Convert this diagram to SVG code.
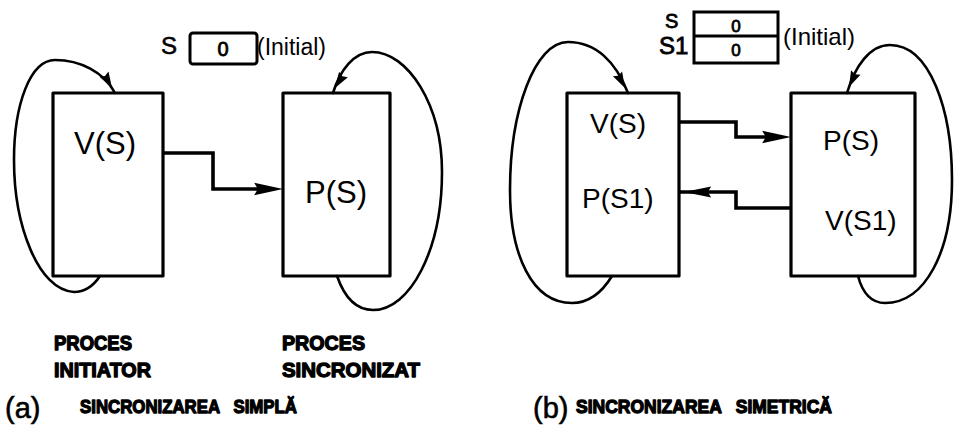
<svg xmlns="http://www.w3.org/2000/svg" xmlns:xlink="http://www.w3.org/1999/xlink" width="955" height="448" viewBox="0 0 955 448">
  <style>
    .box { fill: #fff; stroke: #000; stroke-width: 3.2; stroke-linejoin: round; }
    .sem { fill: #fff; stroke: #000; stroke-width: 3; }
    .loop { fill: none; stroke: #000; stroke-width: 2.6; stroke-linecap: round; }
    .wire { fill: none; stroke: #000; stroke-width: 3.6; stroke-linejoin: miter; }
    .op { font-family: "Liberation Sans", "DejaVu Sans", sans-serif; fill: #000; }
    .lbl { font-family: "Liberation Sans", "DejaVu Sans", sans-serif; font-weight: bold; fill: #000; stroke: #000; stroke-width: 1.3; stroke-linejoin: round; white-space: pre; }
    .cap { font-family: "Liberation Sans", "DejaVu Sans", sans-serif; fill: #000; stroke: #000; stroke-width: 0.6; }
  </style>
  <defs>
    <!-- elongated arrowhead, tip at the origin, pointing along +x -->
    <path id="ah" d="M0,0 L-16,-5.2 L-14,0 L-16,5.2 Z" fill="#000"/>
  </defs>

  <!-- ===== (a) simple synchronisation ===== -->
  <g id="sem-a">
    <text class="op" x="161" y="54" font-size="24" stroke="#000" stroke-width="0.6">S</text>
    <rect class="sem" x="190" y="33" width="67" height="31" rx="3"/>
    <text class="op" x="223" y="56" font-size="20" text-anchor="middle" stroke="#000" stroke-width="0.8">0</text>
    <text class="op" x="257" y="55" font-size="23">(Initial)</text>
  </g>

  <g id="proc-initiator-a">
    <rect class="box" x="53" y="93" width="110" height="183"/>
    <text class="op" x="74" y="154" font-size="31">V(S)</text>
  </g>

  <g id="proc-sync-a">
    <rect class="box" x="283" y="93" width="107" height="183"/>
    <text class="op" x="305" y="203" font-size="31">P(S)</text>
  </g>

  <!-- ===== (b) symmetric synchronisation ===== -->
  <g id="sem-b">
    <text class="op" x="665" y="28" font-size="20" stroke="#000" stroke-width="0.8">S</text>
    <text class="op" x="659" y="54" font-size="24" stroke="#000" stroke-width="0.8">S1</text>
    <rect class="sem" x="694" y="12" width="84" height="51"/>
    <line x1="694" y1="36" x2="778" y2="36" stroke="#000" stroke-width="3"/>
    <text class="op" x="736" y="32" font-size="17" text-anchor="middle" stroke="#000" stroke-width="0.8">0</text>
    <text class="op" x="736" y="56" font-size="17" text-anchor="middle" stroke="#000" stroke-width="0.8">0</text>
    <text class="op" x="783" y="45" font-size="24">(Initial)</text>
  </g>

  <g id="proc-left-b">
    <rect class="box" x="567" y="93" width="112" height="183"/>
    <text class="op" x="590" y="133" font-size="28">V(S)</text>
    <text class="op" x="582" y="208" font-size="28">P(S1)</text>
  </g>

  <g id="proc-right-b">
    <rect class="box" x="791" y="93" width="124" height="183"/>
    <text class="op" x="823" y="150" font-size="28">P(S)</text>
    <text class="op" x="825" y="230" font-size="28">V(S1)</text>
  </g>

  <!-- ===== connectors ===== -->
  <g id="connectors">
    <!-- (a) cycle of the initiating process -->
    <path class="loop" d="M100,276 C92,288 84,292 74,292 C38,290 14,225 14,160 C14,105 30,60 55,60 C80,60 104,72 115,93"/>
    <use xlink:href="#ah" transform="translate(112,88) rotate(60)"/>
    <!-- (a) cycle of the synchronised process -->
    <path class="loop" d="M333,93 C340,70 354,52 372,52 C408,52 442,105 442,172 C442,250 410,310 373,310 C355,310 344,296 337,276"/>
    <use xlink:href="#ah" transform="translate(335,88) rotate(122)"/>
    <!-- (a) V(S) -> P(S) -->
    <path class="wire" d="M163,153 H213 V189 H268"/>
    <use xlink:href="#ah" transform="translate(283,189) scale(1.8,1.2)"/>

    <!-- (b) cycle of the left process -->
    <path class="loop" d="M612,276 C601,294 588,303 572,303 C532,303 510,255 510,190 C510,110 535,42 568,42 C596,42 616,62 628,93"/>
    <use xlink:href="#ah" transform="translate(625,88) rotate(62)"/>
    <!-- (b) cycle of the right process -->
    <path class="loop" d="M847,93 C855,66 870,45 890,45 C930,45 952,110 952,180 C952,252 925,303 885,303 C870,303 862,291 858,276"/>
    <use xlink:href="#ah" transform="translate(849,87) rotate(115)"/>
    <!-- (b) V(S) -> P(S) -->
    <path class="wire" d="M679,122 H736 V137 H776"/>
    <use xlink:href="#ah" transform="translate(791,137) scale(1.8,1.2)"/>
    <!-- (b) V(S1) -> P(S1) -->
    <path class="wire" d="M791,208 H736 V192 H679"/>
    <use xlink:href="#ah" transform="translate(684,192) rotate(180) scale(1.7,1.05)"/>
  </g>

  <!-- ===== captions ===== -->
  <g id="captions">
    <text class="lbl" x="54" y="350" font-size="20" textLength="78" lengthAdjust="spacingAndGlyphs">PROCES</text>
    <text class="lbl" x="54" y="377" font-size="20" textLength="97" lengthAdjust="spacingAndGlyphs">INITIATOR</text>
    <text class="lbl" x="282" y="350" font-size="20" textLength="83" lengthAdjust="spacingAndGlyphs">PROCES</text>
    <text class="lbl" x="282" y="377" font-size="20" textLength="138" lengthAdjust="spacingAndGlyphs">SINCRONIZAT</text>

    <text class="cap" x="5" y="418" font-size="29">(a)</text>
    <text class="lbl" x="80" y="413" font-size="19" textLength="217" lengthAdjust="spacingAndGlyphs">SINCRONIZAREA   SIMPLĂ</text>

    <text class="cap" x="533" y="418" font-size="29">(b)</text>
    <text class="lbl" x="576" y="413" font-size="19" textLength="256" lengthAdjust="spacingAndGlyphs">SINCRONIZAREA   SIMETRICĂ</text>
  </g>
</svg>
